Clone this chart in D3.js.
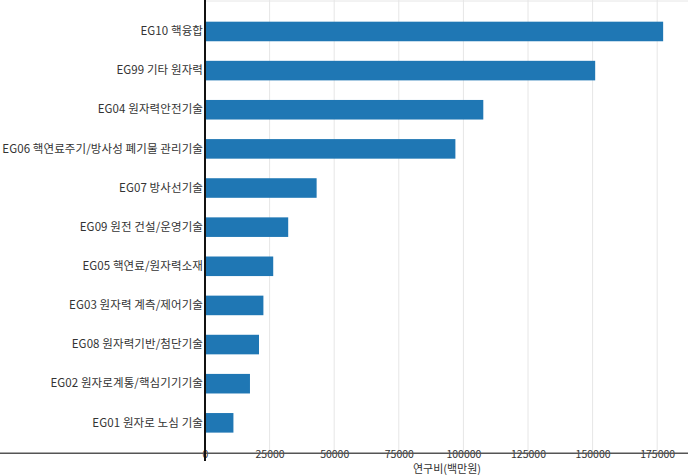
<!DOCTYPE html>
<html><head><meta charset="utf-8">
<script src="https://cdn.jsdelivr.net/npm/d3@7"></script>
<style>body{margin:0;background:#fff}svg{display:block}</style>
</head><body>
<svg id="c" width="688" height="475"></svg>
<script>
const categories = ["EG10 핵융합","EG99 기타 원자력","EG04 원자력안전기술","EG06 핵연료주기/방사성 폐기물 관리기술","EG07 방사선기술","EG09 원전 건설/운영기술","EG05 핵연료/원자력소재","EG03 원자력 계측/제어기술","EG08 원자력기반/첨단기술","EG02 원자로계통/핵심기기기술","EG01 원자로 노심 기술"];
const values = [177300, 151000, 107700, 96900, 43200, 32200, 26400, 22600, 20900, 17400, 11000];
const xTicks = [0,25000,50000,75000,100000,125000,150000,175000];
const xTitle = "연구비(백만원)";

const svg = d3.select("#c");
const font = "'Noto Sans CJK KR','Noto Sans',sans-serif";
const x = d3.scaleLinear().domain([0,175000]).range([205,657.2]);
const y = d3.scaleBand().domain(categories).range([11.9,442.4]).paddingInner(0.5).paddingOuter(0.25);

// grid
svg.append("g").selectAll("line").data(xTicks.slice(1)).join("line")
  .attr("x1",d=>x(d)).attr("x2",d=>x(d)).attr("y1",0).attr("y2",453)
  .attr("stroke","#e6e6e6").attr("stroke-width",1);
svg.append("line").attr("x1",205).attr("x2",688).attr("y1",1).attr("y2",1).attr("stroke","#e6e6e6");

// bars
svg.append("g").selectAll("rect").data(values).join("rect")
  .attr("x",x(0)).attr("y",(d,i)=>y(categories[i]))
  .attr("width",d=>x(d)-x(0)).attr("height",y.bandwidth())
  .attr("fill","#1f77b4");

// x axis
const xa = svg.append("g").attr("transform","translate(0,453)")
  .call(d3.axisBottom(x).tickValues(xTicks).tickFormat(d3.format("d")).tickSize(0).tickPadding(0));
xa.select(".domain").remove();
xa.selectAll("text").attr("font-family",font).attr("font-size",10.5).attr("fill","#333").attr("dy","0.45em");
svg.append("line").attr("x1",0).attr("x2",688).attr("y1",453.3).attr("y2",453.3).attr("stroke","#555").attr("stroke-width",1.5);

// y axis
const ya = svg.append("g").attr("transform","translate(203,0)")
  .call(d3.axisLeft(y).tickSize(0).tickPadding(0));
ya.select(".domain").remove();
ya.selectAll("text").attr("font-family",font).attr("font-size",11.5).attr("letter-spacing","0.1px").attr("fill","#333");
svg.append("line").attr("x1",205).attr("x2",205).attr("y1",0).attr("y2",461).attr("stroke","#111").attr("stroke-width",2);

svg.append("text").attr("x",447).attr("y",473).attr("text-anchor","middle")
  .attr("font-family",font).attr("font-size",11).attr("fill","#333").text(xTitle);
</script>
</body></html>
